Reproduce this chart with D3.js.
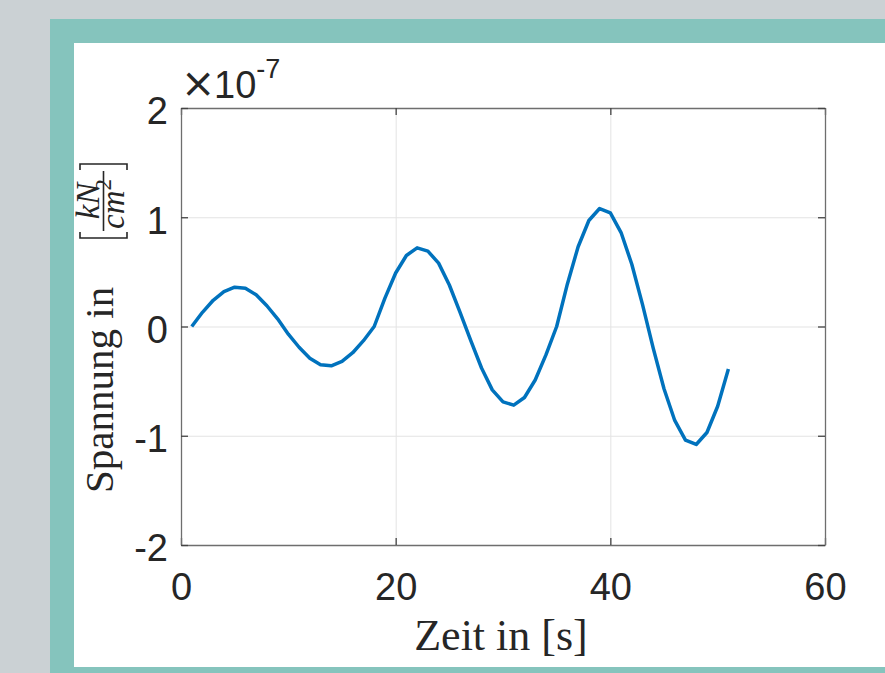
<html>
  <head>
    <meta charset="utf-8">
    <title>Spannung</title>
    <script src="https://d3js.org/d3.v7.min.js"></script>
    <style>
      body { margin: 0; background: #cbd1d4; }
      svg { display: block; }
    </style>
  </head>
  <body>
    <svg width="885" height="673"></svg>

    <script type="text/javascript">
      // Zeit in s
      var zeit = [1, 2, 3, 4, 5, 6, 7, 8, 9, 10, 11, 12, 13, 14, 15, 16, 17,
                  18, 19, 20, 21, 22, 23, 24, 25, 26, 27, 28, 29, 30, 31, 32, 33, 34,
                  35, 36, 37, 38, 39, 40, 41, 42, 43, 44, 45, 46, 47, 48, 49, 50, 51];
      // Spannung in kN/cm^2, Einheit x 10^-7
      var spannung = [0, 0.13, 0.24, 0.32, 0.36, 0.35, 0.29, 0.19, 0.07, -0.07, -0.19, -0.29, -0.35, -0.36, -0.32, -0.24, -0.13,
                      0, 0.26, 0.49, 0.65, 0.72, 0.69, 0.58, 0.38, 0.13, -0.13, -0.38, -0.58, -0.69, -0.72, -0.65, -0.49, -0.26,
                      0, 0.39, 0.73, 0.97, 1.08, 1.04, 0.86, 0.57, 0.20, -0.20, -0.57, -0.86, -1.04, -1.08, -0.97, -0.73, -0.39];
      var xTicks = [0, 20, 40, 60];
      var yTicks = [-2, -1, 0, 1, 2];
      var exponent = "-7";

      var svg = d3.select("svg");
      var sans = "'Liberation Sans', Arial, Helvetica, sans-serif";
      var serif = "'Liberation Serif', 'Times New Roman', serif";
      var ink = "#262626";

      // Rahmen
      svg.append("rect").attr("x", 50).attr("y", 19).attr("width", 835).attr("height", 654).attr("fill", "#85c4bd");
      svg.append("rect").attr("x", 74).attr("y", 43).attr("width", 811).attr("height", 624).attr("fill", "#ffffff");

      var pLeft = 181, pRight = 825, pTop = 108, pBottom = 545;
      var xScale = d3.scaleLinear().domain([0, 60]).range([pLeft, pRight]);
      var yScale = d3.scaleLinear().domain([-2, 2]).range([pBottom, pTop]);

      // Gitter
      var grid = svg.append("g").attr("stroke", "#e3e3e3").attr("stroke-width", 1);
      grid.selectAll(".gx").data(xTicks.slice(1, -1)).enter().append("line")
        .attr("x1", d => xScale(d) + 0.5).attr("x2", d => xScale(d) + 0.5)
        .attr("y1", pTop).attr("y2", pBottom);
      grid.selectAll(".gy").data(yTicks.slice(1, -1)).enter().append("line")
        .attr("y1", d => yScale(d) + 0.5).attr("y2", d => yScale(d) + 0.5)
        .attr("x1", pLeft).attr("x2", pRight);

      // Kurve
      var line = d3.line().x((d, i) => xScale(zeit[i])).y(d => yScale(d));
      svg.append("path").datum(spannung)
        .attr("d", line)
        .attr("fill", "none")
        .attr("stroke", "#0072bd")
        .attr("stroke-width", 3.5)
        .attr("stroke-linejoin", "round");

      // Achsen
      function styleAxis(g) {
        g.select(".domain").attr("stroke", "#6e6e6e").attr("stroke-width", 1.3);
        g.selectAll(".tick line").attr("stroke", "#444").attr("stroke-width", 1.3);
        g.selectAll(".tick text").attr("fill", ink).attr("font-family", sans).attr("font-size", 38);
      }
      var xAxis = svg.append("g").attr("transform", "translate(0," + pBottom + ")")
        .call(d3.axisBottom(xScale).tickValues(xTicks).tickSize(-7).tickSizeOuter(0).tickPadding(28));
      styleAxis(xAxis);
      var xTop = svg.append("g").attr("transform", "translate(0," + pTop + ")")
        .call(d3.axisTop(xScale).tickValues(xTicks).tickSize(-7).tickSizeOuter(0).tickFormat(""));
      styleAxis(xTop);

      var yAxis = svg.append("g").attr("transform", "translate(" + pLeft + ",0)")
        .call(d3.axisLeft(yScale).tickValues(yTicks).tickSize(-7).tickSizeOuter(0).tickPadding(13)
          .tickFormat(d => d < 0 ? "-" + Math.abs(d) : String(d)));
      styleAxis(yAxis);
      yAxis.selectAll(".tick text").attr("dy", "0.42em");
      var yRight = svg.append("g").attr("transform", "translate(" + pRight + ",0)")
        .call(d3.axisRight(yScale).tickValues(yTicks).tickSize(-7).tickSizeOuter(0).tickFormat(""));
      styleAxis(yRight);

      // Exponent
      svg.append("text").attr("x", 181).attr("y", 97)
        .attr("font-size", 41).attr("font-family", "'DejaVu Sans', sans-serif").attr("fill", ink)
        .text("\u00d7");
      var expo = svg.append("text").attr("x", 214).attr("y", 98).attr("fill", ink).attr("font-family", sans);
      expo.append("tspan").attr("font-size", 38).text("10");
      expo.append("tspan").attr("font-size", 27).attr("dy", -20).text(exponent);

      // x-Beschriftung
      svg.append("text")
        .attr("x", 501).attr("y", 650)
        .attr("text-anchor", "middle")
        .attr("font-family", serif).attr("font-size", 44).attr("fill", ink)
        .text("Zeit in [s]");

      // y-Beschriftung (gedreht)
      var yl = svg.append("g").attr("transform", "translate(113,493) rotate(-90)").attr("fill", ink);
      yl.append("text").attr("x", 0).attr("y", 0)
        .attr("font-family", serif).attr("font-size", 41)
        .text("Spannung in");
      yl.append("text").attr("x", 292).attr("y", -14)
        .attr("text-anchor", "middle").attr("font-family", serif).attr("font-style", "italic").attr("font-size", 33)
        .text("kN");
      var den = yl.append("text").attr("x", 289).attr("y", 11)
        .attr("text-anchor", "middle").attr("font-family", serif).attr("font-style", "italic").attr("font-size", 33);
      den.append("tspan").text("cm");
      den.append("tspan").attr("font-size", 23).attr("font-style", "normal").attr("dy", -13).text("2");
      yl.append("line").attr("x1", 262).attr("x2", 322).attr("y1", -9.5).attr("y2", -9.5)
        .attr("stroke", ink).attr("stroke-width", 1.6);
      yl.append("path").attr("d", "M261,-33H255V14H261").attr("fill", "none").attr("stroke", ink).attr("stroke-width", 1.6);
      yl.append("path").attr("d", "M323,-33H329V14H323").attr("fill", "none").attr("stroke", ink).attr("stroke-width", 1.6);
    </script>
  </body>
</html>
